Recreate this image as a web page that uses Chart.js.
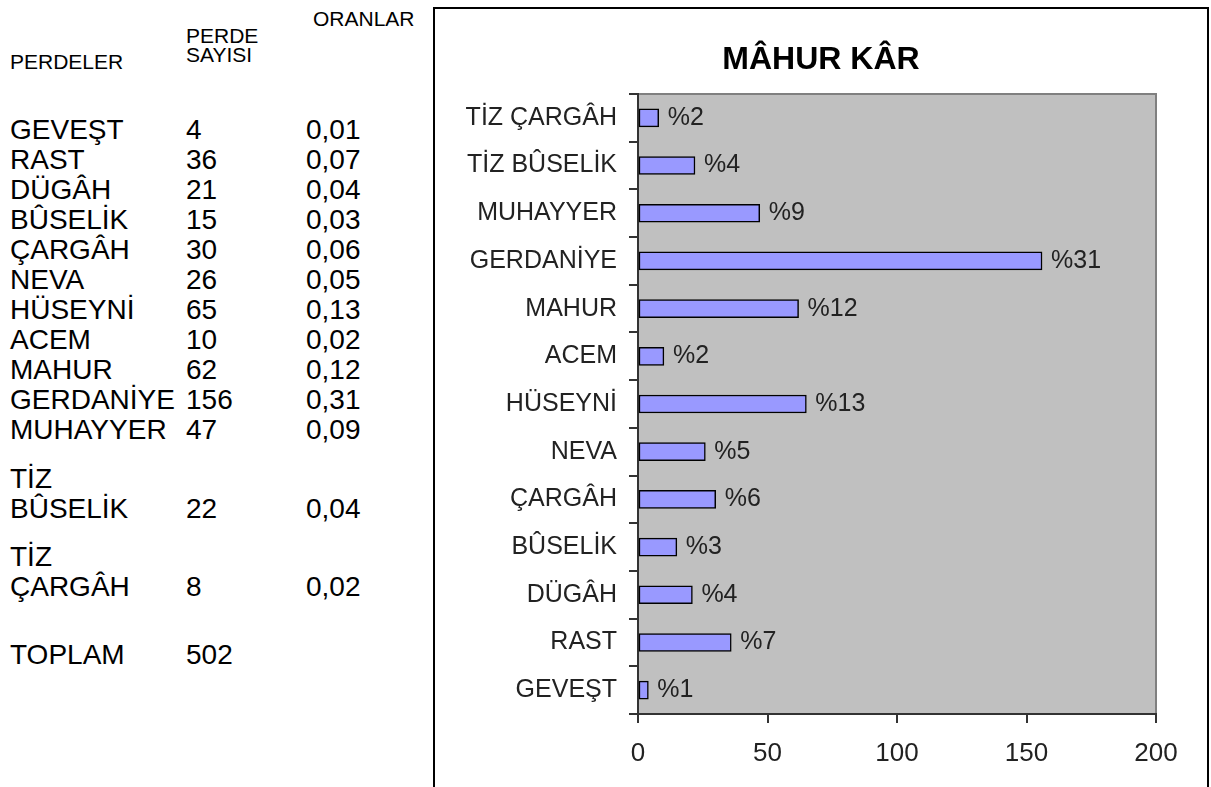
<!DOCTYPE html>
<html>
<head>
<meta charset="utf-8">
<script src="https://cdn.jsdelivr.net/npm/chart.js@4"></script>
<style>
  body { margin: 0; background: #fff; font-family: 'Liberation Sans', Arial, sans-serif; }
  #sheet { position: absolute; left: 0; top: 0; width: 430px; height: 787px; }
  .cell { position: absolute; color: #000; white-space: nowrap; }
  .head { font-size: 21px; line-height: 19px; }
  .val { font-size: 28px; line-height: 30px; height: 30px; }
  #box { position: absolute; left: 433px; top: 7px; width: 776px; height: 782px;
         box-sizing: border-box; border: 2px solid #000; background: #fff; }
  #wrap { position: relative; width: 772px; height: 778px; }
</style>
</head>
<body>
<div id="sheet"></div>
<div id="box"><div id="wrap"><canvas id="barChart"></canvas></div></div>
<script>
// DATA

const categories = ['GEVEŞT', 'RAST', 'DÜGÂH', 'BÛSELİK', 'ÇARGÂH', 'NEVA', 'HÜSEYNİ',
  'ACEM', 'MAHUR', 'GERDANİYE', 'MUHAYYER', 'TİZ BÛSELİK', 'TİZ ÇARGÂH'];
const counts = [4, 36, 21, 15, 30, 26, 65, 10, 62, 156, 47, 22, 8];
const ratios = [0.01, 0.07, 0.04, 0.03, 0.06, 0.05, 0.13, 0.02, 0.12, 0.31, 0.09, 0.04, 0.02];
const totalCount = 502;
const xTicks = [0, 50, 100, 150, 200];
const headers = ['PERDELER', 'PERDE\nSAYISI', 'ORANLAR'];
const chartTitle = 'MÂHUR KÂR';

const FONT = "'Liberation Sans', Arial, sans-serif";


// LEFT TABLE

const sheet = document.getElementById('sheet');
const colX = [10, 186, 306];

function addCell(text, x, centerY, cls) {
  const d = document.createElement('div');
  d.className = 'cell ' + cls;
  d.style.left = x + 'px';
  d.style.top = (centerY - 15) + 'px';
  d.textContent = text;
  sheet.appendChild(d);
}

function addHead(lines, x, topY) {
  const d = document.createElement('div');
  d.className = 'cell head';
  d.style.left = x + 'px';
  d.style.top = topY + 'px';
  d.style.whiteSpace = 'pre';
  d.textContent = lines;
  sheet.appendChild(d);
}

addHead(headers[0], colX[0], 52);
addHead(headers[1], colX[1], 26);
addHead(headers[2], colX[2] + 7, 9);

// rows are 30px, wrapped rows ~78px with text sitting at the bottom
let rowY = 130;
categories.forEach((name, i) => {
  const parts = name.split(' ');
  if (i > 0) rowY += parts.length > 1 ? 78.5 : 30;
  if (parts.length > 1) {
    addCell(parts[0], colX[0], rowY - 30, 'val');
    addCell(parts.slice(1).join(' '), colX[0], rowY, 'val');
  } else {
    addCell(name, colX[0], rowY, 'val');
  }
  addCell(String(counts[i]), colX[1], rowY, 'val');
  addCell(ratios[i].toFixed(2).replace('.', ','), colX[2], rowY, 'val');
});
addCell('TOPLAM', colX[0], rowY + 68, 'val');
addCell(String(totalCount), colX[1], rowY + 68, 'val');


// BAR CHART

const plotBg = {
  id: 'plotBg',
  beforeDraw(chart) {
    const { ctx, chartArea: a } = chart;
    ctx.save();
    ctx.fillStyle = '#c0c0c0';
    ctx.fillRect(a.left, a.top, a.right - a.left, a.bottom - a.top);
    ctx.strokeStyle = '#808080';
    ctx.lineWidth = 2;
    ctx.beginPath();
    ctx.moveTo(a.left, a.top);
    ctx.lineTo(a.right, a.top);
    ctx.lineTo(a.right, a.bottom);
    ctx.stroke();
    ctx.restore();
  },
  afterDatasetsDraw(chart) {
    const ctx = chart.ctx;
    ctx.save();
    ctx.font = '25px ' + FONT;
    ctx.fillStyle = '#222';
    ctx.textBaseline = 'middle';
    chart.getDatasetMeta(0).data.forEach((bar, i) => {
      ctx.fillText('%' + Math.round(ratios[i] * 100), bar.x + 9, bar.y);
    });
    ctx.restore();
  },
  afterDraw(chart) {
    const ctx = chart.ctx;
    ctx.save();
    ctx.font = 'bold 32px ' + FONT;
    ctx.fillStyle = '#000';
    ctx.textAlign = 'center';
    ctx.textBaseline = 'middle';
    ctx.fillText(chartTitle, 386, 51);
    ctx.restore();
  }
};

new Chart(document.getElementById('barChart'), {
  type: 'bar',
  data: {
    labels: categories,
    datasets: [{
      data: counts,
      backgroundColor: '#9999ff',
      borderColor: '#000',
      borderWidth: 1.5,
      borderSkipped: false,
      barThickness: 18
    }]
  },
  options: {
    indexAxis: 'y',
    responsive: true,
    maintainAspectRatio: false,
    animation: false,
    layout: { padding: { top: 85, right: 51, bottom: 0, left: 0 } },
    plugins: {
      legend: { display: false },
      tooltip: { enabled: false }
    },
    scales: {
      x: {
        type: 'linear',
        min: xTicks[0],
        max: xTicks[xTicks.length - 1],
        afterBuildTicks: s => { s.ticks = xTicks.map(v => ({ value: v })); },
        afterFit: s => { s.height = 73; },
        grid: { drawOnChartArea: false, tickLength: 9, color: '#333', lineWidth: 2 },
        border: { color: '#333', width: 2 },
        ticks: { color: '#222', font: { family: FONT, size: 26 }, padding: 15 }
      },
      y: {
        reverse: true,
        afterFit: s => { s.width = 203; },
        grid: { offset: true, drawOnChartArea: false, tickLength: 9, color: '#333', lineWidth: 2 },
        border: { color: '#333', width: 2 },
        ticks: { color: '#222', font: { family: FONT, size: 25 }, padding: 12 }
      }
    }
  },
  plugins: [plotBg]
});
</script>
</body>
</html>
